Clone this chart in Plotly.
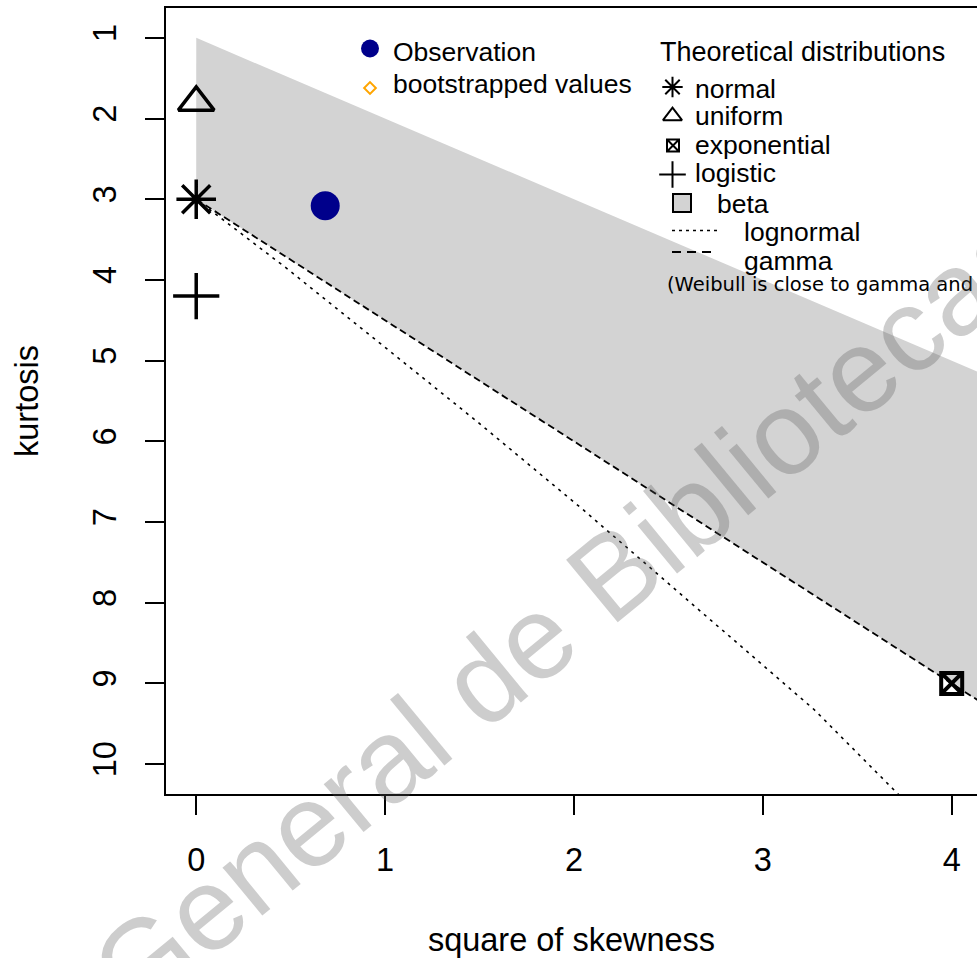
import plotly.graph_objects as go

# ---------------- data ----------------
obs_skew2 = [0.683]
obs_kurt = [3.08]

normal_skew2, normal_kurt = [0.0], [3.0]
uniform_skew2, uniform_kurt = [0.0], [1.8]
expo_skew2, expo_kurt = [4.0], [9.0]
logistic_skew2, logistic_kurt = [0.0], [4.2]

beta_upper_skew2 = [0.0, 4.3]
beta_upper_kurt = [1.0, 5.3]
beta_lower_skew2 = [0.0, 4.3]
beta_lower_kurt = [3.0, 9.45]

gamma_skew2 = [0.0, 4.3]
gamma_kurt = [3.0, 9.45]

lognormal_skew2 = [0.0, 0.47, 0.96, 1.49, 2.05, 2.64, 3.27, 3.86]
lognormal_kurt = [3.0, 3.84, 4.76, 5.76, 6.85, 8.04, 9.32, 10.71]

x_ticks = [0, 1, 2, 3, 4]
y_ticks = [1, 2, 3, 4, 5, 6, 7, 8, 9, 10]

legend1_labels = ["Observation", "bootstrapped values"]
legend2_title = "Theoretical distributions"
legend2_labels = ["normal", "uniform", "exponential", "logistic", "beta", "lognormal", "gamma"]
weibull_note = "(Weibull is close to gamma and lognormal)"
watermark = "General de Bibliotecas"

# ---------------- styling ----------------
FONT = "Liberation Sans, Arial, sans-serif"
W, H = 977, 958
ML, MR, MT, MB = 166, 0, 8, 164
PW, PH = W - ML - MR, H - MT - MB


def px(x):
    return (x - ML) / PW


def py(y):
    return (H - MB - y) / PH


BLACK = "black"
GREY = "#D3D3D3"
NAVY = "#00008B"
ORANGE = "#FFA500"

fig = go.Figure()

# beta region
fig.add_trace(go.Scatter(
    x=beta_upper_skew2 + beta_lower_skew2[::-1],
    y=beta_upper_kurt + beta_lower_kurt[::-1],
    mode="lines", fill="toself", fillcolor=GREY,
    line=dict(width=0, color=GREY), hoverinfo="skip", showlegend=False))

# gamma (dashed) and lognormal (dotted)
fig.add_trace(go.Scatter(x=gamma_skew2, y=gamma_kurt, mode="lines",
                         line=dict(color=BLACK, width=1.8, dash="7px,4px"),
                         showlegend=False))
fig.add_trace(go.Scatter(x=lognormal_skew2, y=lognormal_kurt, mode="lines",
                         line=dict(color=BLACK, width=1.6, dash="3px,5px"),
                         showlegend=False))

# theoretical points
fig.add_trace(go.Scatter(x=normal_skew2, y=normal_kurt, mode="markers",
                         marker=dict(symbol="asterisk-open", size=33, color=BLACK,
                                     line=dict(width=3.5, color=BLACK)),
                         showlegend=False, cliponaxis=False))
fig.add_trace(go.Scatter(x=uniform_skew2, y=uniform_kurt, mode="markers",
                         marker=dict(symbol="triangle-up-open", size=31, color=BLACK,
                                     line=dict(width=3.5, color=BLACK)),
                         showlegend=False, cliponaxis=False))
fig.add_trace(go.Scatter(x=logistic_skew2, y=logistic_kurt, mode="markers",
                         marker=dict(symbol="cross-thin-open", size=33, color=BLACK,
                                     line=dict(width=3.5, color=BLACK)),
                         showlegend=False, cliponaxis=False))
fig.add_trace(go.Scatter(x=expo_skew2, y=expo_kurt, mode="markers",
                         marker=dict(symbol="square-x-open", size=21, color=BLACK,
                                     line=dict(width=4, color=BLACK)),
                         showlegend=False, cliponaxis=False))

# observation
fig.add_trace(go.Scatter(x=obs_skew2, y=obs_kurt, mode="markers",
                         marker=dict(symbol="circle", size=29, color=NAVY),
                         showlegend=False))

# ---------------- legend keys (overlay paper-like axis) ----------------
def key(x, y, **marker):
    fig.add_trace(go.Scatter(x=[px(x)], y=[py(y)], mode="markers", xaxis="x2", yaxis="y2",
                             marker=marker, showlegend=False, cliponaxis=False,
                             hoverinfo="skip"))


key(370, 48.5, symbol="circle", size=18, color=NAVY)
key(370, 88, symbol="diamond-open", size=9, color=ORANGE, line=dict(width=2, color=ORANGE))
key(672.5, 87, symbol="asterisk-open", size=17, color=BLACK, line=dict(width=2, color=BLACK))
key(672.5, 116, symbol="triangle-up-open", size=16.5, color=BLACK, line=dict(width=2, color=BLACK))
key(673, 145.5, symbol="square-x-open", size=12, color=BLACK, line=dict(width=2, color=BLACK))
key(672.5, 174.5, symbol="cross-thin-open", size=19, color=BLACK, line=dict(width=2, color=BLACK))
key(682, 203, symbol="square", size=18, color=GREY, line=dict(width=2, color=BLACK))

fig.add_trace(go.Scatter(x=[px(672), px(718)], y=[py(230.5)] * 2, mode="lines",
                         xaxis="x2", yaxis="y2", showlegend=False, hoverinfo="skip",
                         line=dict(color=BLACK, width=1.6, dash="3px,4px")))
fig.add_trace(go.Scatter(x=[px(672), px(716)], y=[py(252)] * 2, mode="lines",
                         xaxis="x2", yaxis="y2", showlegend=False, hoverinfo="skip",
                         line=dict(color=BLACK, width=1.8, dash="9px,6px")))

# ---------------- legend texts ----------------
LFS = 26.5
ann = []


def txt(s, x, y, size=LFS, family=FONT):
    ann.append(dict(text=s, x=px(x), y=py(y), xref="paper", yref="paper",
                    xanchor="left", yanchor="middle", showarrow=False,
                    font=dict(family=family, size=size, color=BLACK)))


txt(legend1_labels[0], 391, 52.2)
txt(legend1_labels[1], 391, 84.5)
txt(legend2_title, 658, 52.2, size=27)
rows = [(693, 88.8), (693, 115.5), (693, 145.5), (693, 173.5), (715, 203.5), (742, 232.2), (742, 260.5)]
for lab, (xx, yy) in zip(legend2_labels, rows):
    txt(lab, xx, yy)
txt(weibull_note, 665, 284.5, size=19.5, family="DejaVu Sans, Verdana, sans-serif")

# watermark
ann.append(dict(text=watermark, x=px(566), y=py(612), xref="paper", yref="paper",
                xanchor="center", yanchor="middle", showarrow=False, textangle=-39.5,
                font=dict(family=FONT, size=118, color="rgba(90,90,90,0.30)")))

AXFS = 32.5
fig.update_layout(
    width=W, height=H,
    margin=dict(l=ML, r=MR, t=MT, b=MB, pad=0),
    paper_bgcolor="white", plot_bgcolor="white",
    font=dict(family=FONT, color=BLACK, size=AXFS),
    showlegend=False,
    annotations=ann,
    xaxis=dict(range=[-0.16, 4.134], tickvals=x_ticks, ticktext=[str(v) for v in x_ticks],
               ticks="outside", ticklen=19, tickwidth=2, tickcolor=BLACK,
               showline=True, linewidth=2, linecolor=BLACK, mirror=True,
               showgrid=False, zeroline=False, ticklabelstandoff=17,
               tickfont=dict(size=AXFS, family=FONT, color=BLACK),
               title=dict(text="square of skewness", standoff=58,
                          font=dict(size=AXFS, family=FONT, color=BLACK))),
    yaxis=dict(range=[10.37, 0.63], tickvals=y_ticks, ticktext=[str(v) for v in y_ticks],
               ticks="outside", ticklen=19, tickwidth=2, tickcolor=BLACK, tickangle=-90,
               showline=True, linewidth=2, linecolor=BLACK, mirror=False,
               showgrid=False, zeroline=False, ticklabelstandoff=16,
               tickfont=dict(size=AXFS, family=FONT, color=BLACK),
               title=dict(text="kurtosis", standoff=39,
                          font=dict(size=AXFS, family=FONT, color=BLACK))),
    xaxis2=dict(overlaying="x", range=[0, 1], visible=False, fixedrange=True),
    yaxis2=dict(overlaying="y", range=[0, 1], visible=False, fixedrange=True),
)

fig.write_html("out.html", config={"displayModeBar": False},
               post_script="document.body.style.margin='0px';document.body.style.overflow='hidden';")
